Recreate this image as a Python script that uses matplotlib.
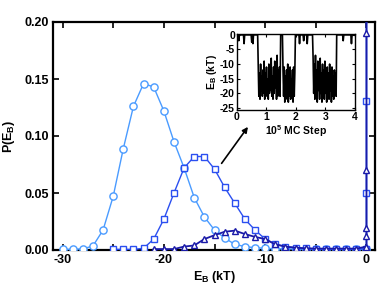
import numpy as np
import matplotlib
matplotlib.use("Agg")
import matplotlib.pyplot as plt

plt.rcParams['font.family'] = ['Liberation Sans', 'DejaVu Sans']
plt.rcParams['font.weight'] = 'bold'
plt.rcParams['mathtext.default'] = 'bf'

# ---- main histogram data ----
circ_x = [-30, -29, -28, -27, -26, -25, -24, -23, -22, -21, -20, -19, -18, -17, -16,
          -15, -14, -13, -12, -11, -10, -9, -8, -7, -6, -5, -4, -3, -2, -1, 0, 0]
circ_y = [0.0005, 0.0005, 0.001, 0.0035, 0.0175, 0.047, 0.089, 0.126, 0.146, 0.143,
          0.122, 0.095, 0.072, 0.046, 0.029, 0.0175, 0.0105, 0.005, 0.003, 0.002,
          0.0015, 0.001, 0.001, 0.0008, 0.0008, 0.0008, 0.0008, 0.0008, 0.0008, 0.0008,
          0.0008, 0.6]

sq_x = [-25, -24, -23, -22, -21, -20, -19, -18, -17, -16, -15, -14, -13, -12, -11,
        -10, -9, -8, -7, -6, -5, -4, -3, -2, -1, 0, 0, 0, 0]
sq_y = [0.0005, 0.0005, 0.0005, 0.0015, 0.0096, 0.027, 0.050, 0.072, 0.082, 0.082,
        0.071, 0.055, 0.041, 0.027, 0.0175, 0.0096, 0.005, 0.003, 0.002, 0.0015,
        0.001, 0.001, 0.001, 0.001, 0.001, 0.001, 0.050, 0.131, 0.6]

tri_x = [-21, -20, -19, -18, -17, -16, -15, -14, -13, -12, -11, -10, -9, -8, -7,
         -6, -5, -4, -3, -2, -1, 0, 0, 0, 0, 0, 0]
tri_y = [0.0008, 0.0008, 0.0008, 0.003, 0.004, 0.0096, 0.013, 0.016, 0.017, 0.014,
         0.0115, 0.0096, 0.005, 0.003, 0.002, 0.0015, 0.0012, 0.0012, 0.0012, 0.0012,
         0.0012, 0.003, 0.012, 0.019, 0.070, 0.190, 0.6]

x_ticks = [-30, -25, -20, -15, -10, -5, 0]
x_ticklabels = ['-30', '', '-20', '', '-10', '', '0']
y_ticks = [0.00, 0.05, 0.10, 0.15, 0.20]
y_ticklabels = ['0.00', '0.05', '0.10', '0.15', '0.20']

# ---- inset trajectory (E_B every 0.02 x 10^5 MC steps) ----
seg_unbound1 = [0, 0, 0, -2, 0, 0, 0, 0, 0, 0, 0, 0, -3, 0, 0, 0, 0, 0, 0, 0,
                0, 0, 0, 0, 0, -2.5, 0, -3, 0, 0, 0, 0, 0, 0, 0, 0]
seg_bound1 = [-11, -21, -13, -22, -10, -19, -14, -21, -12, -20, -9, -22, -13, -18,
              -11, -21, -15, -22, -10, -20, -12, -19, -8, -21, -14, -22, -11, -20,
              -9, -18, -13, -22, -7, -21, -12, -20, -11, -21]
seg_unbound2 = [0, 0, 0, 0]
seg_bound2 = [-12, -21, -11, -23, -14, -20, -12, -22, -10, -23, -13, -21, -11, -22,
              -15, -20, -12, -23, -11, -21, -13]
seg_unbound3 = [0, 0, 0, 0, 0, 0, 0, -3, 0, 0, 0, 0, 0, 0, -2, 0, 0, 0, 0, 0,
                -3, 0, 0, 0, 0, 0, 0, 0, 0, 0]
seg_bound3 = [-8, -20, -10, -22, -7, -21, -12, -23, -9, -19, -11, -22, -8, -20,
              -13, -23, -10, -21, -12, -22, -9, -20, -14, -23, -11, -21, -13, -22,
              -10, -19, -12, -23, -11, -21, -14, -22, -12, -20, -13, -21]
seg_unbound4 = [0, 0, 0, 0, 0, 0, 0, 0, 0, 0, 0, -2, 0, 0, 0, 0, 0, 0, 0, 0,
                0, 0, 0, 0, 0, -3, 0, 0, 0, 0, 0, 0]
traj_E = seg_unbound1 + seg_bound1 + seg_unbound2 + seg_bound2 + seg_unbound3 + seg_bound3 + seg_unbound4
traj_step = 0.02
traj_t = np.arange(len(traj_E)) * traj_step

inset_xticks = [0, 1, 2, 3, 4]
inset_yticks = [0, -5, -10, -15, -20, -25]

c_circ = '#4a9bff'
c_sq = '#2b4ff0'
c_tri = '#1a1aa8'

fig = plt.figure(figsize=(3.82, 2.95), dpi=100)
ax = fig.add_axes([53/382, 1-250/295, (375-53)/382, (250-22)/295])

ax.plot(circ_x, circ_y, color=c_circ, lw=1.0, marker='o', ms=5.2,
        mfc='white', mec=c_circ, mew=1.0, zorder=3)
ax.plot(sq_x, sq_y, color=c_sq, lw=1.0, marker='s', ms=4.6,
        mfc='white', mec=c_sq, mew=1.0, zorder=4)
ax.plot(tri_x, tri_y, color=c_tri, lw=1.3, marker='^', ms=5.0,
        mfc='white', mec=c_tri, mew=1.0, zorder=5)

ax.set_xlim(-30.94, 0.84)
ax.set_ylim(0, 0.2)
ax.set_xticks(x_ticks)
ax.set_xticklabels(x_ticklabels)
ax.set_yticks(y_ticks)
ax.set_yticklabels(y_ticklabels)
ax.tick_params(direction='in', top=True, right=True, length=4, width=1.2,
               labelsize=9, pad=3)
for lbl in ax.get_xticklabels() + ax.get_yticklabels():
    lbl.set_fontweight('bold')
for s in ax.spines.values():
    s.set_linewidth(1.6)
ax.set_xlabel(r'E$_\mathregular{B}$ (kT)', fontsize=9, fontweight='bold', labelpad=2)
ax.set_ylabel(r'P(E$_\mathregular{B}$)', fontsize=9, fontweight='bold', labelpad=5)

ax.annotate('', xy=(-11.7, 0.108), xytext=(-14.3, 0.076),
            arrowprops=dict(arrowstyle='-|>', color='black', lw=1.2,
                            mutation_scale=8, shrinkA=0, shrinkB=0))

# ---- inset ----
ins = fig.add_axes([237/382, 1-110/295, (355-237)/382, (110-34)/295])
ins.plot(traj_t, traj_E, color='black', lw=1.2)
ins.set_xlim(0, 4)
ins.set_ylim(-25.7, 0.3)
ins.set_xticks(inset_xticks)
ins.set_yticks(inset_yticks)
ins.set_yticklabels([str(v) for v in inset_yticks])
ins.tick_params(direction='in', top=True, right=True, length=2.5, width=0.8,
               labelsize=7.5, pad=1.5)
for lbl in ins.get_xticklabels() + ins.get_yticklabels():
    lbl.set_fontweight('bold')
for s in ins.spines.values():
    s.set_linewidth(1.0)
ins.set_xlabel(r'10$^\mathregular{5}$ MC Step', fontsize=7.5, fontweight='bold', labelpad=1)
ins.set_ylabel(r'E$_\mathregular{B}$ (kT)', fontsize=7.5, fontweight='bold', labelpad=1)

fig.savefig('out.png', dpi=100)
